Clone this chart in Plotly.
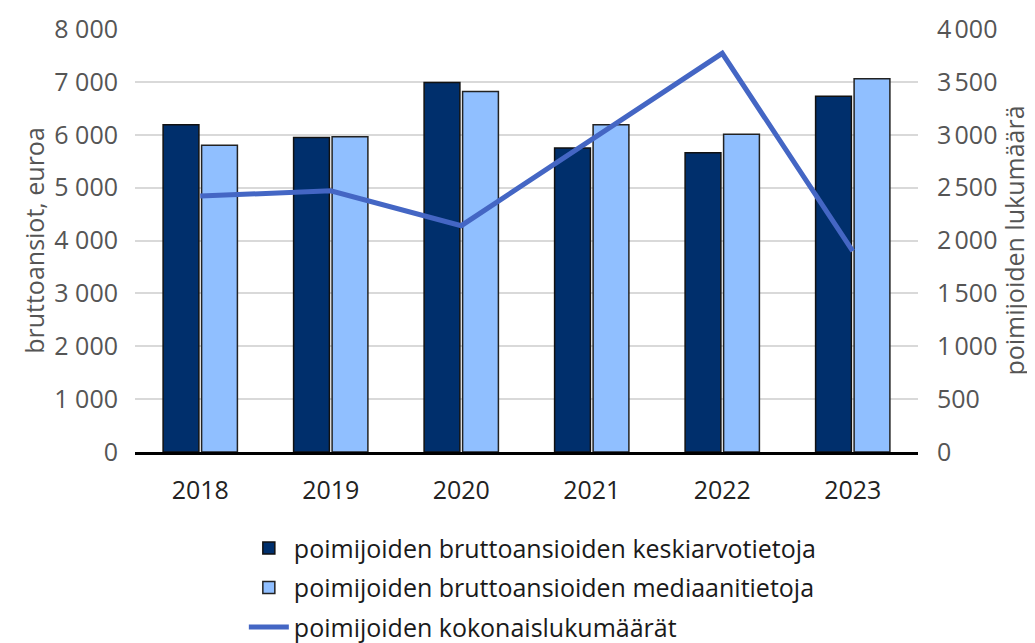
import plotly.graph_objects as go

years = ["2018", "2019", "2020", "2021", "2022", "2023"]
mean_earnings = [6190, 5950, 6990, 5750, 5660, 6730]
median_earnings = [5800, 5960, 6820, 6190, 6010, 7060]
total_counts = [2420, 2470, 2140, 2960, 3770, 1900]

left_tickvals = [0, 1000, 2000, 3000, 4000, 5000, 6000, 7000, 8000]
left_ticktext = ["0", "1 000", "2 000", "3 000", "4 000", "5 000", "6 000", "7 000", "8 000"]
right_tickvals = [0, 500, 1000, 1500, 2000, 2500, 3000, 3500, 4000]
right_ticktext = ["0", "500", "1\u202f000", "1\u202f500", "2\u202f000", "2\u202f500", "3\u202f000", "3\u202f500", "4\u202f000"]

names = [
    "poimijoiden bruttoansioiden keskiarvotietoja",
    "poimijoiden bruttoansioiden mediaanitietoja",
    "poimijoiden kokonaislukumäärät",
]

FONT = "Open Sans"
FS = 25

fig = go.Figure()
fig.add_trace(go.Bar(
    x=years, y=mean_earnings, name=names[0], legendgroup="a",
    marker=dict(color="#002f6c", line=dict(color="#111111", width=1.5)),
    yaxis="y",
))
fig.add_trace(go.Bar(
    x=years, y=median_earnings, name=names[1], legendgroup="b",
    marker=dict(color="#90bfff", line=dict(color="#222222", width=1.5)),
    yaxis="y",
))
fig.add_trace(go.Scatter(
    x=years, y=total_counts, name=names[2], mode="lines", legendgroup="c",
    line=dict(color="#4466c4", width=5),
    yaxis="y2",
))

fig.update_layout(
    width=1027, height=635,
    margin=dict(l=127, r=117, t=21, b=191, autoexpand=False),
    paper_bgcolor="white", plot_bgcolor="white",
    font=dict(family=FONT, size=FS, color="#555555"),
    barmode="group", bargap=0.41, bargroupgap=0.07,
    showlegend=True,
    legend=dict(
        orientation="v", x=0.139, xanchor="left", y=-0.173, yanchor="top",
        font=dict(family=FONT, size=FS, color="#1a1a1a"),
        traceorder="grouped", tracegroupgap=4, itemwidth=40,
        bgcolor="rgba(0,0,0,0)",
    ),
    xaxis=dict(
        type="category", showgrid=False, showline=True, linecolor="black", linewidth=3,
        ticks="", tickfont=dict(size=FS, color="#222222"), ticklabelstandoff=14,
    ),
    yaxis=dict(
        range=[0, 8000], tickvals=left_tickvals, ticktext=left_ticktext,
        showgrid=True, gridcolor="#d9d9d9", gridwidth=2, zeroline=False,
        showline=False, ticks="", ticklabelstandoff=16,
        tickfont=dict(size=FS, color="#555555"),
        title=dict(text="bruttoansiot, euroa", font=dict(size=FS, color="#555555"), standoff=2),
    ),
    yaxis2=dict(
        range=[0, 4000], tickvals=right_tickvals, ticktext=right_ticktext,
        overlaying="y", side="right", showgrid=False, zeroline=False,
        ticks="", ticklabelstandoff=18,
        tickfont=dict(size=FS, color="#555555"),
        title=dict(text="poimijoiden lukumäärä", font=dict(size=FS, color="#555555"), standoff=10),
    ),
)

fig.write_html("out.html")
